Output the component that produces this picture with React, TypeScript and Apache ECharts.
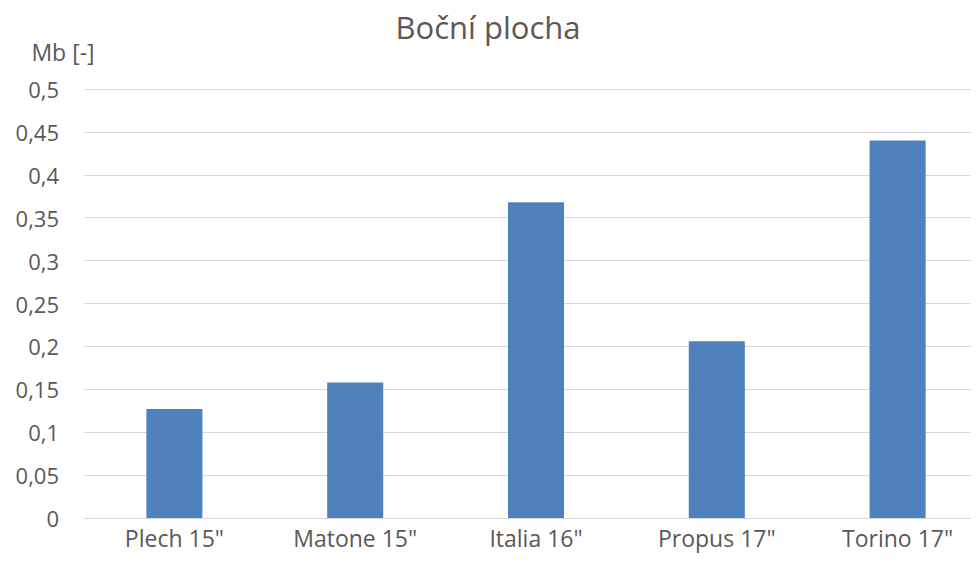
import React, { useEffect, useRef } from "react";
import * as echarts from "echarts";

const categories = ['Plech 15"', 'Matone 15"', 'Italia 16"', 'Propus 17"', 'Torino 17"'];
const values = [0.127, 0.158, 0.368, 0.206, 0.44];
const titleText = "Boční plocha";
const yAxisName = "Mb [-]";

export default function App() {
  const ref = useRef<HTMLDivElement>(null);
  useEffect(() => {
    if (!ref.current) return;
    const chart = echarts.init(ref.current, null, { renderer: "svg" });
    const font = "'Open Sans', sans-serif";
    chart.setOption({
      animation: false,
      backgroundColor: "#ffffff",
      title: {
        text: titleText,
        left: "center",
        top: 6,
        textStyle: { fontFamily: font, fontSize: 31, fontWeight: "normal", color: "#595959" },
      },
      grid: { left: 84, width: 904, top: 89, bottom: 49, containLabel: false, outerBoundsMode: "none" },
      xAxis: {
        type: "category",
        data: categories,
        axisLine: { show: true, lineStyle: { color: "#d9d9d9", width: 1 } },
        axisTick: { show: false },
        axisLabel: { color: "#595959", fontFamily: font, fontSize: 23, margin: 8 },
      },
      yAxis: {
        type: "value",
        min: 0,
        max: 0.5,
        interval: 0.05,
        name: yAxisName,
        nameLocation: "end",
        nameGap: 26,
        nameTextStyle: { color: "#595959", fontFamily: font, fontSize: 23, align: "center", padding: [0, 42, 0, 0] },
        axisLine: { show: false },
        axisTick: { show: false },
        splitLine: { lineStyle: { color: "#d9d9d9", width: 1 } },
        axisLabel: {
          color: "#595959",
          fontFamily: font,
          fontSize: 22,
          margin: 25,
          formatter: (v: number) => String(Math.round(v * 100) / 100).replace(".", ","),
        },
      },
      series: [
        {
          type: "bar",
          data: values,
          barWidth: "31%",
          itemStyle: { color: "#4f81bd" },
        },
      ],
      graphic: [
        { type: "rect", left: 971, top: 0, shape: { width: 10, height: 567 }, style: { fill: "#ffffff" }, z: 100 },
      ],
    });
    return () => chart.dispose();
  }, []);
  return <div ref={ref} style={{ width: 976, height: 567, position: "absolute", left: 0, top: 0 }} />;
}
